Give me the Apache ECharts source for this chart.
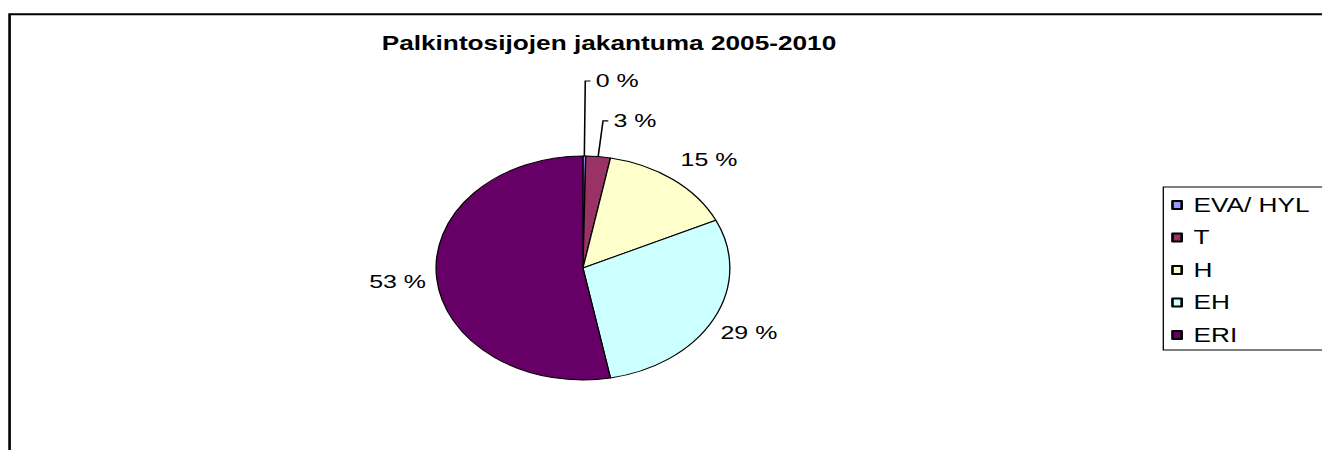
<!DOCTYPE html>
<html>
<head>
<meta charset="utf-8">
<script src="https://cdn.jsdelivr.net/npm/echarts@6/dist/echarts.min.js"></script>
<style>
    html, body { margin: 0; padding: 0; background: #fff; overflow: hidden; }
    /* the original is a stretched picture, so draw narrow and stretch sideways */
    #main {
        width: 1008px;
        height: 450px;
        transform: scaleX(1.3115);
        transform-origin: 0 0;
    }
</style>
</head>
<body>
<div id="main"></div>
<script>
const titleText = 'Palkintosijojen jakantuma 2005-2010'
const categories = ['EVA/ HYL', 'T', 'H', 'EH', 'ERI']
const shares = [0.3, 2.7, 15, 29, 53]

const colors = ['#9999FF', '#993366', '#FFFFCC', '#CCFFFF', '#660066']
// leader line per slice: [length, length2, gap, visible]
const leaders = [
    [75, 4, 4, true],
    [36, 4, 4, true],
    [30, 0, 0, false],
    [30, 0, 0, false],
    [30, 0, 0, false]
]
// small nudges for labels without a leader
const nudges = [[0, 0], [0, 0], [9, 4], [0, 0], [0, 0]]
const font = 'Liberation Sans'

var myChart = echarts.init(document.getElementById('main'), null, { renderer: 'svg' })

var option = {
    animation: false,
    backgroundColor: '#fff',
    title: {
        text: titleText,
        left: 291,
        top: 33,
        padding: 0,
        textStyle: {
            fontFamily: font,
            fontSize: 20,
            fontWeight: 'bold',
            color: '#000'
        }
    },
    legend: {
        orient: 'vertical',
        left: 887,
        top: 187,
        padding: [8, 30, 5, 6],
        icon: 'rect',
        itemWidth: 7,
        itemHeight: 8,
        itemGap: 12.5,
        borderColor: '#000',
        borderWidth: 1,
        data: categories,
        formatter: '{a|{name}}',
        textStyle: {
            fontFamily: font,
            fontSize: 20,
            color: '#000',
            rich: {
                a: {
                    fontFamily: font,
                    fontSize: 20,
                    color: '#000',
                    padding: [0, 0, 0, 4]
                }
            }
        }
    },
    graphic: [{
        type: 'rect',
        shape: { x: 7.3, y: 14.3, width: 1200, height: 600 },
        style: { fill: 'none', stroke: '#000', lineWidth: 2 },
        silent: true
    }],
    series: [{
        type: 'pie',
        center: [444.5, 268],
        radius: 112,
        startAngle: 90,
        clockwise: true,
        avoidLabelOverlap: false,
        itemStyle: {
            borderColor: '#000',
            borderWidth: 1
        },
        label: {
            position: 'outside',
            fontFamily: font,
            fontSize: 19,
            color: '#000',
            formatter: function (p) {
                return Math.round(p.percent) + ' %'
            }
        },
        labelLine: {
            lineStyle: { color: '#000', width: 1.2 }
        },
        labelLayout: function (params) {
            // slices without a leader: centre the text at the end of the hidden line
            var i = params.dataIndex
            if (leaders[i][3]) return
            var pts = params.labelLinePoints
            if (!pts) return
            return {
                x: pts[1][0] + nudges[i][0],
                y: pts[1][1] + nudges[i][1],
                align: 'center',
                verticalAlign: 'middle'
            }
        },
        data: categories.map(function (name, i) {
            var l = leaders[i]
            return {
                name: name,
                value: shares[i],
                itemStyle: { color: colors[i] },
                label: { distanceToLabelLine: l[2] },
                labelLine: {
                    show: true,
                    length: l[0],
                    length2: l[1],
                    lineStyle: { opacity: l[3] ? 1 : 0 }
                }
            }
        })
    }]
}

myChart.setOption(option)
</script>
</body>
</html>
